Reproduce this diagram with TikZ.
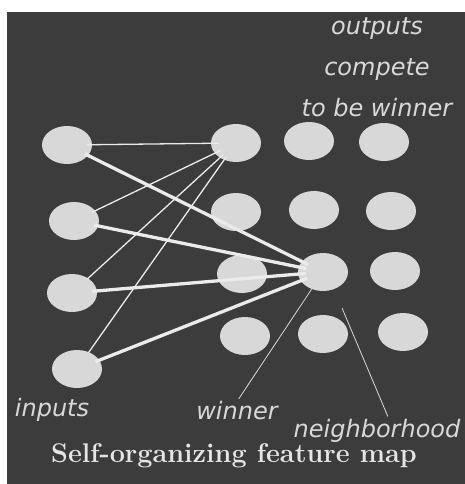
\documentclass[tikz,border=0pt]{standalone}
\usepackage{fontspec}
\newfontfamily\handfont{DejaVu Sans}
\usetikzlibrary{positioning,shapes.geometric}

\definecolor{board}{RGB}{60,60,60}
\definecolor{chalk}{RGB}{216,216,216}

\begin{document}
\begin{tikzpicture}[x=1pt,y=-1pt,
  unit/.style={ellipse,fill=chalk,minimum width=50pt,minimum height=38pt,inner sep=0pt},
  wire/.style={draw=white!92!black,line width=1.3pt,shorten <=20pt,shorten >=17pt},
  heavy/.style={wire,line width=3.3pt},
  hand/.style={text=chalk,inner sep=0pt,font=\handfont\itshape\fontsize{24}{27}\selectfont},
  pointer/.style={draw=chalk,line width=0.8pt}]
  \useasboundingbox (0,0) rectangle (465,484);
  \fill[board] (7,12) rectangle (465,484);

  % input layer
  \node[unit] (in1) at (67,145) {};
  \node[unit] (in2) at (74,221) {};
  \node[unit] (in3) at (72,293) {};
  \node[unit] (in4) at (77,369) {};

  % output grid, 4 rows
  \node[unit] (o11) at (236,143) {};
  \node[unit] (o12) at (309,141) {};
  \node[unit] (o13) at (384,142) {};
  \node[unit] (o21) at (236,212) {};
  \node[unit] (o22) at (314,210) {};
  \node[unit] (o23) at (391,211) {};
  \node[unit] (o31) at (242,274) {};
  \node[unit] (win) at (323,272) {};
  \node[unit] (o33) at (395,271) {};
  \node[unit] (o41) at (245,336) {};
  \node[unit] (o42) at (323,334) {};
  \node[unit] (o43) at (403,332) {};

  % weights
  \foreach \i in {1,2,3,4}{
    \draw[wire] (in\i.center) -- (o11.center);
    \draw[heavy] (in\i.center) -- (win.center);
  }

  % labels
  \node[hand] (outlbl) at (377,29) {outputs};
  \node[hand] (complbl) at (377,70) {compete};
  \node[hand] (tobelbl) at (377,108) {to be winner};
  \node[hand] (inlbl) at (52,410) {inputs};
  \node[hand] (winlbl) at (237,411) {winner};
  \node[hand] (nbhdlbl) at (377,431) {neighborhood};
  \coordinate (nbhd) at (342,308);
  \draw[pointer,shorten <=20pt,shorten >=3pt] (win.center) -- (winlbl.north);
  \draw[pointer,shorten >=3pt] (nbhd) -- ([xshift=12pt]nbhdlbl.north);

  \node[text=white!90!black,font=\bfseries\fontsize{27}{31}\selectfont] (title) at (234,456) {Self-organizing feature map};
\end{tikzpicture}
\end{document}
